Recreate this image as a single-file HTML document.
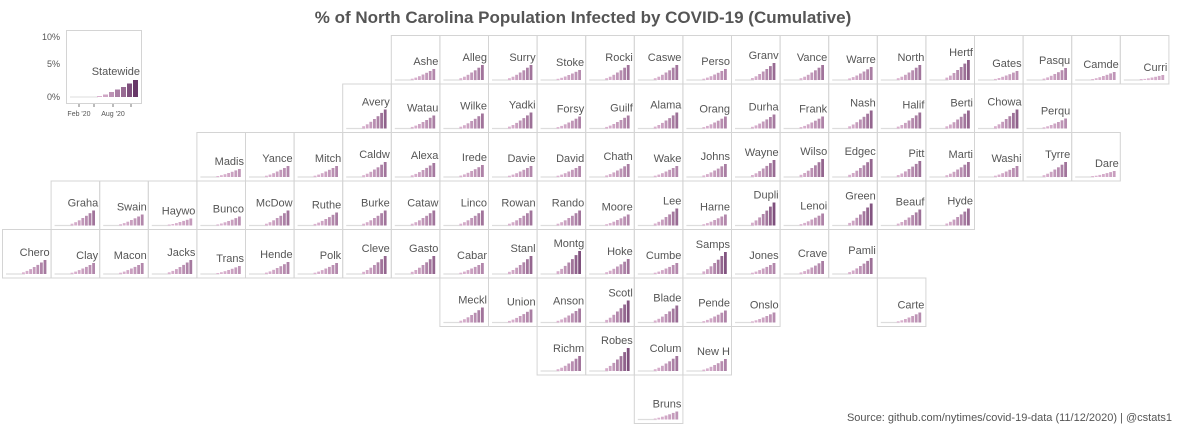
<!DOCTYPE html>
<html><head><meta charset="utf-8"><style>
html,body{margin:0;padding:0;background:#fff;width:1200px;height:445px;overflow:hidden}
svg text{font-family:"Liberation Sans",Arial,sans-serif}
</style></head><body>
<svg id="s" width="1200" height="445" xmlns="http://www.w3.org/2000/svg">
<text x="583" y="23" text-anchor="middle" font-size="17" font-weight="bold" fill="#555">% of North Carolina Population Infected by COVID-19 (Cumulative)</text>
<text x="1172" y="421" text-anchor="end" font-size="11" fill="#555">Source: github.com/nytimes/covid-19-data (11/12/2020) | @cstats1</text>
<rect x="66.5" y="30.5" width="75" height="73" fill="none" stroke="#d4d4d4"/>
<text x="60" y="40" text-anchor="end" font-size="9" fill="#555">10%</text>
<text x="60" y="67" text-anchor="end" font-size="9" fill="#555">5%</text>
<text x="60" y="100" text-anchor="end" font-size="9" fill="#555">0%</text>
<text x="140" y="75" text-anchor="end" font-size="11" fill="#555">Statewide</text>
<text x="79" y="116" text-anchor="middle" font-size="7" fill="#555">Feb '20</text>
<text x="113" y="116" text-anchor="middle" font-size="7" fill="#555">Aug '20</text>
<g id="g"></g>
</svg>
<script>
var NS="http://www.w3.org/2000/svg",g=document.getElementById("g");
function el(t,a){var e=document.createElementNS(NS,t);for(var k in a)e.setAttribute(k,a[k]);g.appendChild(e);return e;}
function col(h){var t=Math.min(1,h/28);var a=[226,186,214],b=[104,56,104];
return "rgb("+a.map(function(v,i){return Math.round(v+(b[i]-v)*t)}).join(",")+")";}
// statewide
el("line",{x1:70,y1:97,x2:98,y2:97,stroke:"#ddd","stroke-width":1});
[[98,1],[104,2],[110,4],[116,6],[122,8],[128,11],[134,14]].forEach(function(b,i){
 var h=b[1]+i*0.5;el("rect",{x:b[0]-1,y:97-h,width:5,height:h,fill:col(h*1.7)});});
[79,94,113,131].forEach(function(x){el("line",{x1:x,y1:104,x2:x,y2:107,stroke:"#777"});});
var rows=[
[8,[["Ashe",26],["Alleg",22],["Surry",22],["Stoke",27],["Rocki",22],["Caswe",22],["Perso",26],["Granv",20],["Vance",22],["Warre",24],["North",22],["Hertf",17],["Gates",28],["Pasqu",25],["Camde",29],["Curri",32]]],
[7,[["Avery",18],["Watau",24],["Wilke",22],["Yadki",21],["Forsy",25],["Guilf",24],["Alama",21],["Orang",25],["Durha",23],["Frank",25],["Nash",19],["Halif",21],["Berti",19],["Chowa",18],["Perqu",27]]],
[4,[["Madis",29],["Yance",26],["Mitch",26],["Caldw",22],["Alexa",23],["Irede",25],["Davie",26],["David",26],["Chath",24],["Wake",26],["Johns",24],["Wayne",20],["Wilso",19],["Edgec",19],["Pitt",21],["Marti",22],["Washi",26],["Tyrre",22],["Dare",31]]],
[1,[["Graha",22],["Swain",26],["Haywo",30],["Bunco",28],["McDow",22],["Ruthe",24],["Burke",22],["Cataw",22],["Linco",22],["Rowan",22],["Rando",22],["Moore",26],["Lee",20],["Harne",26],["Dupli",14],["Lenoi",25],["Green",15],["Beauf",21],["Hyde",20]]],
[0,[["Chero",23],["Clay",26],["Macon",26],["Jacks",23],["Trans",29],["Hende",25],["Polk",26],["Cleve",19],["Gasto",19],["Cabar",26],["Stanl",19],["Montg",14],["Hoke",22],["Cumbe",26],["Samps",15],["Jones",26],["Crave",24],["Pamli",21]]],
[9,[["Meckl",22],["Union",24],["Anson",23],["Scotl",15],["Blade",20],["Pende",25],["Onslo",27],null,null,["Carte",27]]],
[11,[["Richm",22],["Robes",14],["Colum",22],["New H",25]]],
[13,[["Bruns",29]]]];
var W=48.6,H=48.5,F=[0.12,0.22,0.35,0.5,0.65,0.82,1];
rows.forEach(function(r,ri){
 r[1].forEach(function(c,ci){
  if(!c)return;
  var x=2+(r[0]+ci)*W,y=35+ri*H;
  el("rect",{x:(x+0.5).toFixed(1),y:(y+0.5).toFixed(1),width:W.toFixed(1),height:H.toFixed(1),fill:"none",stroke:"#d4d4d4","stroke-width":1});
  var o=c[1],h=Math.max(4,37-o),base=y+45;
  el("line",{x1:x+4,y1:base,x2:x+23,y2:base,stroke:"#ddd","stroke-width":1.2});
  for(var i=0;i<7;i++){var bh=Math.max(1,h*F[i]);
   el("rect",{x:(x+20+i*3.6).toFixed(1),y:(base-bh).toFixed(1),width:2.8,height:bh.toFixed(1),fill:col(bh)});}
  var t=el("text",{x:(x+W-1).toFixed(1),y:(y+o+4).toFixed(1),"text-anchor":"end","font-size":"11",fill:"#555"});
  t.textContent=c[0];
 });
});
</script>
</body></html>
